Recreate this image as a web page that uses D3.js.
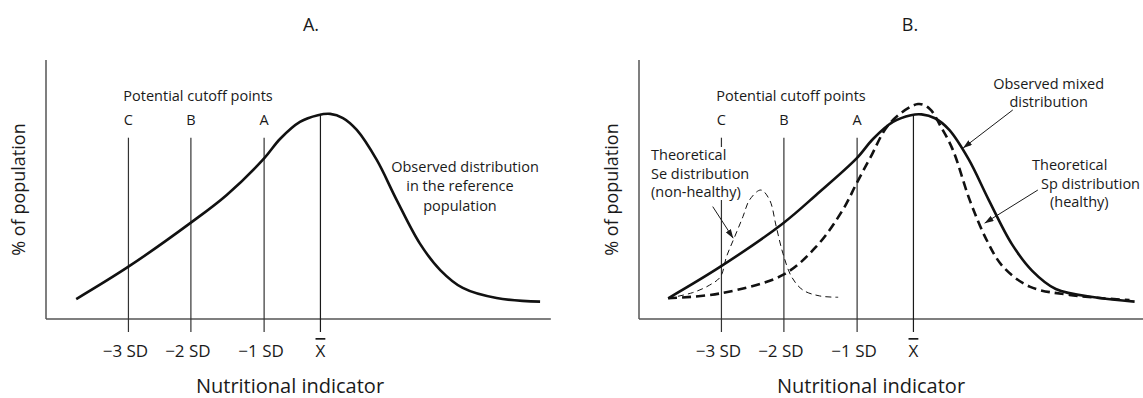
<!DOCTYPE html>
<html>
<head>
<meta charset="utf-8">
<script src="https://cdn.jsdelivr.net/npm/d3@7"></script>
<style>
  body { margin: 0; background: #fff; }
  svg { display: block; }
  text { font-family: "Open Sans", Lato, sans-serif; fill: #1a1a1a; font-variant-ligatures: none; }
</style>
</head>
<body>
<svg id="chart" width="1143" height="398"></svg>
<script>
// Cutoff points on the nutritional-indicator axis (arbitrary units 0–100)
const cutoffPos = [16.1, 28.3, 42.6, 53.6];
const cutoffLetters = ["C", "B", "A"];
const tickLabels = ["−3 SD", "−2 SD", "−1 SD", "X"];

// Panel A: observed distribution in the reference population
const refX = [5.9, 16.1, 28.3, 35.3, 42.6, 45.7, 49.6, 53.1, 55.5, 58.0, 60.7, 64.6, 68.5, 73.0, 77.0, 81.4, 88.0, 96.5];
const refY = [7.7, 20.2, 37.2, 47.9, 62.0, 69.5, 76.1, 78.7, 79.2, 77.6, 73.0, 61.4, 45.9, 29.2, 18.9, 12.0, 8.1, 6.7];

// Panel B: observed mixed distribution
const mixX = [5.7, 15.9, 28.1, 34.6, 42.5, 45.7, 49.6, 53.1, 55.2, 57.8, 60.6, 64.4, 68.3, 72.8, 76.8, 81.4, 89.3, 96.8];
const mixY = [8.0, 20.2, 36.9, 47.9, 62.0, 69.5, 76.1, 78.7, 79.0, 77.5, 73.0, 61.6, 46.0, 29.0, 18.6, 11.6, 8.3, 6.7];

// Panel B: theoretical Sp distribution (healthy)
const spX = [5.7, 15.9, 28.1, 34.6, 39.8, 42.5, 45.1, 49.0, 54.5, 56.7, 59.0, 61.3, 64.6, 67.9, 71.1, 76.3, 84.1, 95.8];
const spY = [8.0, 9.9, 17.0, 27.9, 42.1, 52.4, 62.0, 75.6, 83.0, 81.3, 74.1, 65.3, 45.9, 30.5, 20.2, 12.5, 9.3, 7.3];

// Panel B: theoretical Se distribution (non-healthy)
const seX = [5.7, 10.5, 13.8, 15.9, 17.1, 18.7, 20.3, 21.6, 23.8, 25.5, 26.8, 28.1, 29.8, 32.0, 35.3, 38.9];
const seY = [8.0, 10.2, 13.1, 16.3, 24.1, 31.8, 39.5, 46.0, 49.8, 46.0, 35.7, 25.4, 16.3, 11.2, 8.9, 8.4];

const svg = d3.select("#chart");
const x = d3.scaleLinear().domain([0, 100]).range([0, 512]);
const y = d3.scaleLinear().domain([0, 100]).range([319, 60]);
const line = d3.line().x(d => x(d[0])).y(d => y(d[1])).curve(d3.curveCatmullRom.alpha(0.5));
const zip = (a, b) => a.map((v, i) => [v, b[i]]);

svg.append("defs").append("marker")
  .attr("id", "arrow").attr("viewBox", "0 -3 9 6")
  .attr("refX", 9).attr("refY", 0)
  .attr("markerWidth", 9).attr("markerHeight", 6)
  .attr("markerUnits", "userSpaceOnUse").attr("orient", "auto")
  .append("path").attr("d", "M0,-3L9,0L0,3Z").attr("fill", "#1a1a1a");

function drawFrame(g, title, peak, titleX, xTitleX) {
  // panel title
  g.append("text").attr("x", titleX).attr("y", 31)
    .attr("text-anchor", "middle").style("font-size", "18px").text(title);

  // y axis
  g.append("line").attr("x1", 0).attr("x2", 0).attr("y1", y(100)).attr("y2", y(0))
    .attr("stroke", "#555").attr("stroke-width", 1.5);
  // x axis
  g.append("line").attr("x1", 0).attr("x2", x(98.6)).attr("y1", y(0)).attr("y2", y(0))
    .attr("stroke", "#555").attr("stroke-width", 1.5);

  // cutoff lines C, B, A
  cutoffPos.slice(0, 3).forEach((p, i) => {
    g.append("line").attr("x1", x(p)).attr("x2", x(p))
      .attr("y1", y(70)).attr("y2", y(0) + 13)
      .attr("stroke", "#333").attr("stroke-width", 1.2);
    g.append("text").attr("x", x(p)).attr("y", y(70) - 12.5)
      .attr("text-anchor", "middle").style("font-size", "14.5px").text(cutoffLetters[i]);
  });
  // mean line up to the peak of the observed curve
  g.append("line").attr("x1", x(cutoffPos[3])).attr("x2", x(cutoffPos[3]))
    .attr("y1", y(peak)).attr("y2", y(0) + 13)
    .attr("stroke", "#1a1a1a").attr("stroke-width", 1.2);

  g.append("text").attr("x", x(29.7)).attr("y", 101)
    .attr("text-anchor", "middle").style("font-size", "14.5px").text("Potential cutoff points");

  // tick labels
  tickLabels.forEach((t, i) => {
    const tx = g.append("text").attr("x", x(cutoffPos[i]) + (i < 3 ? -3 : 0)).attr("y", 357)
      .attr("text-anchor", "middle").style("font-size", "17px").text(t);
    if (i === 3) tx.style("text-decoration", "overline");
  });

  // axis titles
  g.append("text").attr("x", xTitleX).attr("y", 393)
    .attr("text-anchor", "middle").style("font-size", "20px").text("Nutritional indicator");
  g.append("text").attr("transform", `translate(-27,${y(50)}) rotate(-90)`)
    .attr("text-anchor", "middle").attr("dy", "0.35em")
    .style("font-size", "18px").text("% of population");
}

// ---------- Panel A ----------
const gA = svg.append("g").attr("transform", "translate(46,0)");
drawFrame(gA, "A.", d3.max(refY), 265, 244);
gA.append("path").datum(zip(refX, refY)).attr("d", line)
  .attr("fill", "none").attr("stroke", "#111").attr("stroke-width", 2.6);
const noteA = gA.append("text").attr("text-anchor", "middle").style("font-size", "14.5px");
["Observed distribution", "in the reference", "population"].forEach((t, i) => {
  noteA.append("tspan").attr("x", 419 + (i ? -5 : 0)).attr("y", 172 + i * 19.3).text(t);
});

// ---------- Panel B ----------
const gB = svg.append("g").attr("transform", "translate(639,0)");
drawFrame(gB, "B.", d3.max(mixY), 271, 232);

// Se label sits on a white card over the C cutoff line
const seNote = gB.append("g");
const seText = seNote.append("text").style("font-size", "14.5px");
["Theoretical", "Se distribution", "(non-healthy)"].forEach((t, i) => {
  seText.append("tspan").attr("x", 12).attr("y", 160 + i * 18.5).text(t);
});
const bb = seText.node().getBBox();
seNote.insert("rect", "text").attr("x", bb.x - 1).attr("y", bb.y + 2)
  .attr("width", bb.width + 2).attr("height", bb.height - 3).attr("fill", "#fff");

gB.append("path").datum(zip(seX, seY)).attr("d", line)
  .attr("fill", "none").attr("stroke", "#111").attr("stroke-width", 1)
  .attr("stroke-dasharray", "6,4");
gB.append("path").datum(zip(spX, spY)).attr("d", line)
  .attr("fill", "none").attr("stroke", "#111").attr("stroke-width", 2.6)
  .attr("stroke-dasharray", "9,5");
gB.append("path").datum(zip(mixX, mixY)).attr("d", line)
  .attr("fill", "none").attr("stroke", "#111").attr("stroke-width", 2.6);

const noteMix = gB.append("text").attr("text-anchor", "middle").style("font-size", "14.5px");
["Observed mixed", "distribution"].forEach((t, i) => {
  noteMix.append("tspan").attr("x", x(80.0)).attr("y", 88.5 + i * 18.5).text(t);
});
const noteSp = gB.append("text").style("font-size", "14.5px");
["Theoretical", "Sp distribution", "(healthy)"].forEach((t, i) => {
  noteSp.append("tspan").attr("x", 393 + i * 9).attr("y", 170 + i * 18.5).text(t);
});

// annotation arrows: [x1, y1, x2, y2] in data units
const arrows = [[14.4, 43.4, 18.4, 31.2], [73.0, 80.7, 63.3, 66.0], [77.9, 49.8, 67.5, 37.0]];
arrows.forEach(a => {
  gB.append("line").attr("x1", x(a[0])).attr("y1", y(a[1])).attr("x2", x(a[2])).attr("y2", y(a[3]))
    .attr("stroke", "#1a1a1a").attr("stroke-width", 1).attr("marker-end", "url(#arrow)");
});
</script>
</body>
</html>
